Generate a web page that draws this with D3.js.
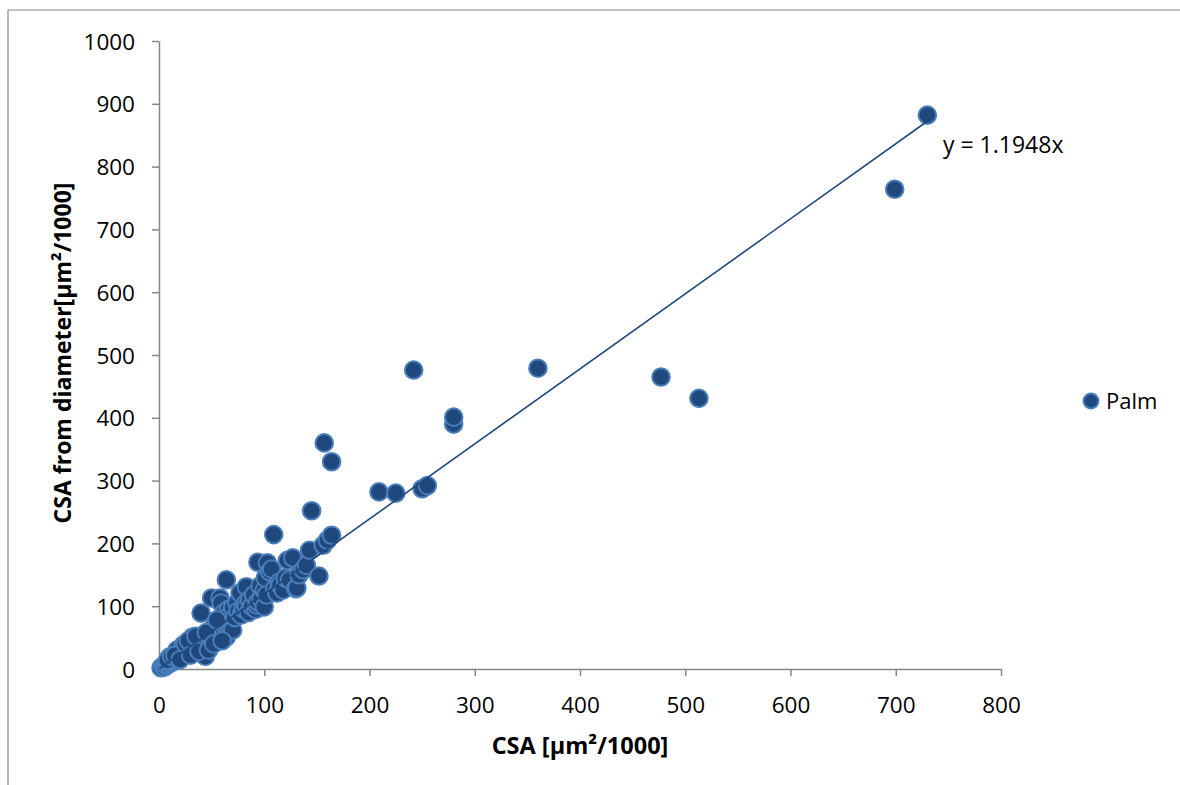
<!DOCTYPE html>
<html>
<head>
<meta charset="utf-8">
<script src="https://cdn.jsdelivr.net/npm/d3@7"></script>
<style>
  html, body { margin: 0; padding: 0; background: #fff; }
  svg { display: block; }
  text { font-family: "Open Sans", "Liberation Sans", sans-serif; fill: #000; }
</style>
</head>
<body>
<svg id="chart" width="1180" height="785"></svg>
<script>
// ---- data ----
const csa = [2,4,5,6,7,8,9,10,10,11,12,13,14,15,16,17,17,18,19,20,21,22,23,23,24,25,26,27,28,29,30,31,32,32,33,34,35,36,37,38,39,40,40,41,42,43,44,45,46,47,48,49,50,50,51,52,53,54,55,56,57,58,58,59,60,61,62,63,64,64,65,66,67,68,70,70,72,74,75,77,78,80,82,83,83,85,86,88,90,92,93,94,94,96,97,100,100,101,102,103,105,107,109,110,112,114,115,118,120,122,124,127,130,131,133,137,140,143,145,152,156,157,160,164,164,209,225,250,255,242,280,280,360,477,513,699,730,
  8,12,15,20,25,28,30,35,38,45,47,52,55,60];
const csaDiameter = [2,5,3,7,6,9,8,12,19,10,14,12,17,14,20,16,30,22,18,24,21,27,38,24,29,26,32,28,35,31,37,33,51,40,34,42,38,45,36,47,41,89,50,30,44,53,20,48,57,40,60,52,113,62,47,66,56,68,50,72,62,113,80,105,58,76,90,68,142,51,84,95,72,88,62,98,82,105,92,121,86,96,104,99,131,90,110,100,118,95,102,170,107,132,112,99,125,145,118,169,155,159,214,128,121,138,134,126,145,173,142,177,128,129,150,158,165,189,252,148,197,360,205,213,330,282,280,287,292,476,390,401,479,465,431,764,882,
  14,20,22,15,40,45,22,52,28,58,30,40,78,45];
const slope = 1.1948;
const seriesName = "Palm";
const equationLabel = "y = 1.1948x";
const xTicks = [0,100,200,300,400,500,600,700,800];
const yTicks = [0,100,200,300,400,500,600,700,800,900,1000];
const xTitle = "CSA [µm²/1000]";
const yTitle = "CSA from diameter[µm²/1000]";

// ---- drawing ----
const svg = d3.select("#chart");
const x = d3.scaleLinear().domain([0, 800]).range([159, 1001]);
const y = d3.scaleLinear().domain([0, 1000]).range([669, 41]);

const axisColor = "#868686";
const fillColor = "#1f497d";
const strokeColor = "#4a7ebb";

// outer frame
svg.append("path")
  .attr("d", "M8,785V10H1180")
  .attr("fill", "none")
  .attr("stroke", axisColor)
  .attr("stroke-width", 1.2);

// x axis
const gx = svg.append("g")
  .attr("transform", `translate(0,${y(0)})`)
  .call(d3.axisBottom(x).tickValues(xTicks).tickSize(7).tickSizeOuter(0).tickFormat(d3.format("d")));
gx.select(".domain").attr("stroke", axisColor).attr("stroke-width", 1.5);
gx.selectAll(".tick line").attr("stroke", axisColor).attr("stroke-width", 1.5);
gx.selectAll(".tick text")
  .attr("y", 44).attr("dy", null)
  .style("font-family", '"Open Sans", sans-serif')
  .style("font-size", "22.5px").attr("fill", "#000");

// y axis
const gy = svg.append("g")
  .attr("transform", `translate(${x(0)},0)`)
  .call(d3.axisLeft(y).tickValues(yTicks).tickSize(7).tickSizeOuter(0).tickFormat(d3.format("d")));
gy.select(".domain").attr("stroke", axisColor).attr("stroke-width", 1.5);
gy.selectAll(".tick line").attr("stroke", axisColor).attr("stroke-width", 1.5);
gy.selectAll(".tick text")
  .attr("x", -24).attr("dy", "0.36em")
  .style("font-family", '"Open Sans", sans-serif')
  .style("font-size", "22.5px").attr("fill", "#000");

// points
const pts = csa.map((v, i) => ({ x: v, y: csaDiameter[i] }));
svg.append("g").selectAll("circle")
  .data(pts)
  .join("circle")
  .attr("cx", d => x(d.x))
  .attr("cy", d => y(d.y))
  .attr("r", 8.8)
  .attr("fill", fillColor)
  .attr("stroke", strokeColor)
  .attr("stroke-width", 2);

// trend line through origin
const xMax = d3.max(csa);
svg.append("line")
  .attr("x1", x(0)).attr("y1", y(0))
  .attr("x2", x(xMax)).attr("y2", y(slope * xMax))
  .attr("stroke", fillColor)
  .attr("stroke-width", 1.6);

// equation
svg.append("text")
  .attr("x", 943).attr("y", 153)
  .style("font-size", "23px")
  .text(equationLabel);

// legend
svg.append("circle")
  .attr("cx", 1091).attr("cy", 401).attr("r", 7.5)
  .attr("fill", fillColor).attr("stroke", strokeColor).attr("stroke-width", 2);
svg.append("text")
  .attr("x", 1106).attr("y", 409)
  .style("font-size", "22px")
  .text(seriesName);

// axis titles
svg.append("text")
  .attr("x", 580).attr("y", 754)
  .attr("text-anchor", "middle")
  .style("font-size", "23.5px").style("font-weight", "bold")
  .text(xTitle);

svg.append("text")
  .attr("transform", "translate(71,353) rotate(-90)")
  .attr("text-anchor", "middle")
  .style("font-size", "23px").style("font-weight", "bold")
  .text(yTitle);
</script>
</body>
</html>
